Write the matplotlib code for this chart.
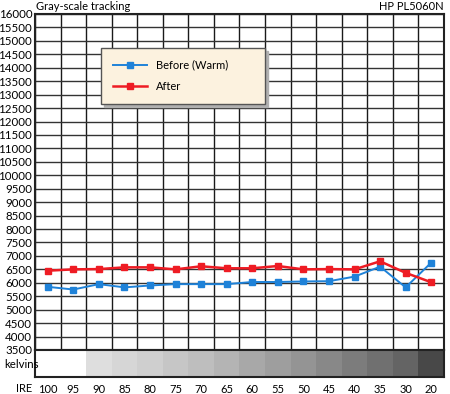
import matplotlib
matplotlib.use("Agg")
import matplotlib.pyplot as plt
import numpy as np

ire = ["100", "95", "90", "85", "80", "75", "70", "65", "60", "55", "50", "45", "40", "35", "30", "20"]
before = [5850, 5750, 5950, 5830, 5900, 5950, 5950, 5950, 6030, 6030, 6050, 6060, 6230, 6600, 5830, 6750]
after = [6450, 6500, 6510, 6575, 6575, 6500, 6615, 6540, 6540, 6625, 6500, 6510, 6500, 6800, 6370, 6020]
strip_gray = [255, 255, 222, 214, 207, 198, 190, 180, 168, 158, 148, 136, 124, 112, 100, 72]
yticks = list(range(3500, 16001, 500))

plt.rcParams['font.family'] = ['Lato', 'DejaVu Sans']

fig = plt.figure(figsize=(4.5, 3.94), dpi=100)
W, H = 450, 394
def rect(x0, y0, x1, y1):
    return [x0 / W, 1 - y1 / H, (x1 - x0) / W, (y1 - y0) / H]

ax = fig.add_axes(rect(35, 14, 444, 350))
x = np.arange(len(ire))
ax.set_xlim(-0.5, len(ire) - 0.5)
ax.set_ylim(3500, 16000)
for xv in np.arange(-0.5, len(ire), 1.0):
    ax.axvline(xv, color='#1a1a1a', lw=1.0, zorder=1)
for yv in yticks:
    ax.axhline(yv, color='#333333', lw=1.0, zorder=1)
ax.set_yticks(yticks)
ax.set_yticklabels([str(v) for v in yticks], fontsize=8.3)
ax.set_xticks([])
ax.tick_params(axis='y', length=0, pad=2)
for s in ax.spines.values():
    s.set_color('#222222')
    s.set_linewidth(1.5)

lb, = ax.plot(x, before, color='#1f82d8', lw=1.4, marker='s', ms=5,
              mfc='#1f82d8', mec='#1f82d8', zorder=3, label='Before (Warm)')
la, = ax.plot(x, after, color='#ee1c24', lw=1.8, marker='s', ms=5,
              mfc='#ee1c24', mec='#ee1c24', zorder=4, label='After')

leg = ax.legend(handles=[lb, la], loc='upper left',
                bbox_to_anchor=((101 - 35) / 409, 1 - (48 - 14) / 336, (265 - 101) / 409, 0),
                mode='expand', fontsize=8, frameon=True, fancybox=False,
                shadow={'color': '#b0b0b0', 'alpha': 1.0},
                handlelength=3.1, handletextpad=0.8, borderpad=1.05,
                labelspacing=0.95, borderaxespad=0, markerscale=0.8)
leg.get_frame().set_facecolor('#fcf2df')
leg.get_frame().set_edgecolor('#555555')
leg.get_frame().set_linewidth(1.0)
leg.set_zorder(10)

ax2 = fig.add_axes(rect(35, 350, 444, 377))
ax2.set_xlim(-0.5, len(ire) - 0.5)
ax2.set_ylim(0, 1)
cols = [(g / 255, g / 255, g / 255) for g in strip_gray]
ax2.bar(x, [1] * len(x), width=1.0, color=cols, edgecolor='none')
ax2.set_yticks([])
ax2.set_xticks(x)
ax2.set_xticklabels(ire, fontsize=8)
ax2.tick_params(axis='x', length=0, pad=5)
for s in ax2.spines.values():
    s.set_color('#222222')
    s.set_linewidth(1.5)

fig.text(4 / W, 1 - 365 / H, 'kelvins', fontsize=8.3, ha='left', va='center')
fig.text(16 / W, 1 - 388 / H, 'IRE', fontsize=8, ha='left', va='center')
fig.text(36 / W, 1 - 6 / H, 'Gray-scale tracking', fontsize=8, ha='left', va='center')
fig.text(444 / W, 1 - 6 / H, 'HP PL5060N', fontsize=8, ha='right', va='center')

fig.savefig('out.png', dpi=100)
